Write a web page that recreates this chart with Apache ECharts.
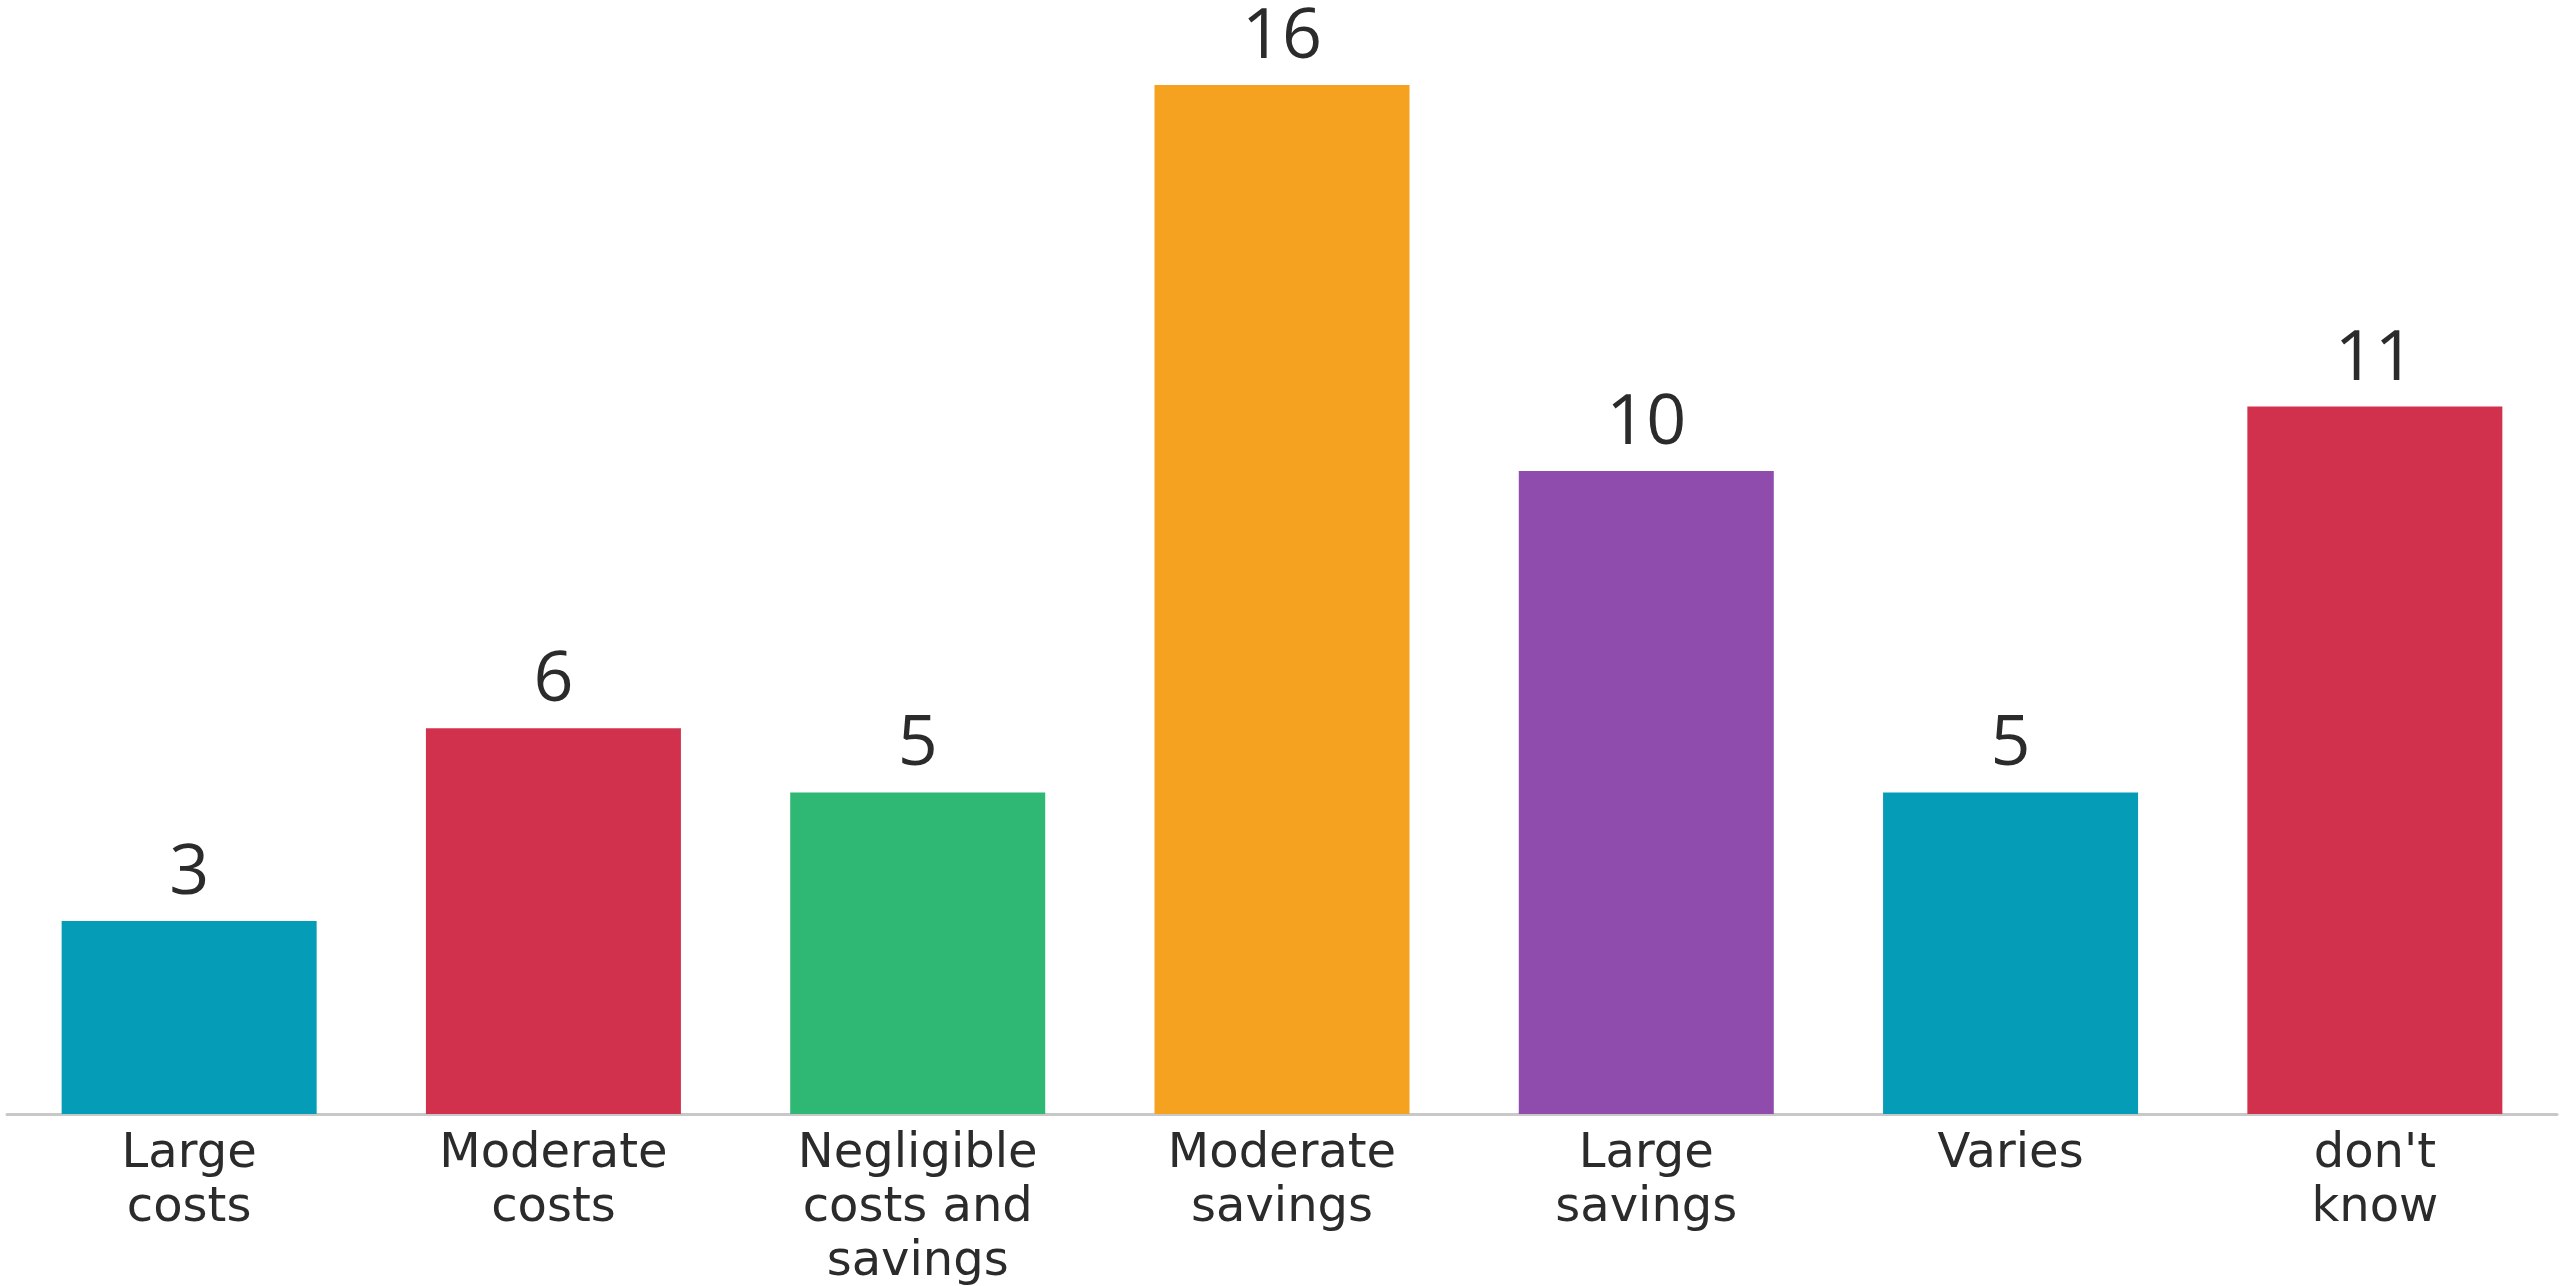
<!DOCTYPE html>
<html>
<head>
<meta charset="utf-8">
<script src="https://cdn.jsdelivr.net/npm/echarts@6/dist/echarts.min.js"></script>
<style>
html,body{margin:0;padding:0;background:#fff;}
#chart{width:2561px;height:1286px;}
</style>
</head>
<body>
<div id="chart"></div>
<script>
const categories = ['Large\ncosts', 'Moderate\ncosts', 'Negligible\ncosts and\nsavings', 'Moderate\nsavings', 'Large\nsavings', 'Varies', "don't\nknow"];
const values = [3, 6, 5, 16, 10, 5, 11];
const barColors = ['#049CB7', '#D2314D', '#2EB873', '#F4A21F', '#8F4CAD', '#049CB7', '#D2314D'];

const chart = echarts.init(document.getElementById('chart'), null, {renderer: 'canvas'});
chart.setOption({
  animation: false,
  backgroundColor: '#ffffff',
  grid: {left: 7, right: 4, top: 85, bottom: 172, containLabel: false, outerBoundsMode: 'none'},
  xAxis: {
    type: 'category',
    data: categories,
    axisLine: {show: true, lineStyle: {color: '#c8c8c8', width: 3}},
    axisTick: {show: false},
    axisLabel: {
      color: '#2b2b2b',
      fontFamily: 'DejaVu Sans',
      fontSize: 48,
      lineHeight: 54,
      margin: 14,
      interval: 0
    }
  },
  yAxis: {
    type: 'value',
    min: 0,
    max: 16,
    show: false,
    splitLine: {show: false}
  },
  series: [{
    type: 'bar',
    barWidth: 255,
    data: values.map((v, i) => ({value: v, itemStyle: {color: barColors[i]}})),
    label: {
      show: true,
      position: 'top',
      distance: 12,
      color: '#2b2b2b',
      fontFamily: 'Open Sans',
      fontSize: 70
    }
  }]
});
</script>
</body>
</html>
